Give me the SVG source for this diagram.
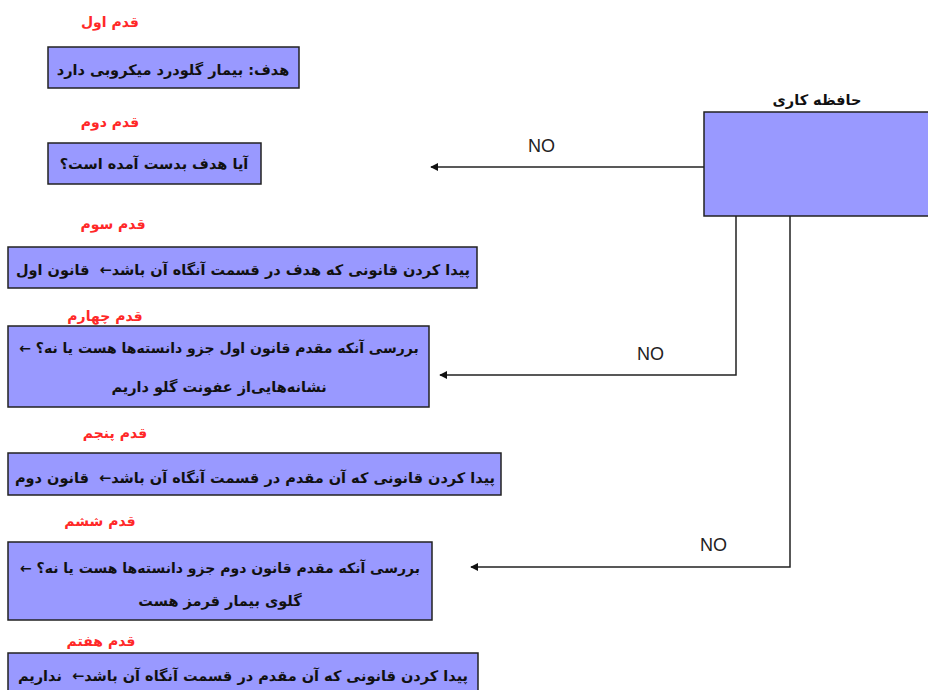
<svg xmlns="http://www.w3.org/2000/svg" width="928" height="690" viewBox="0 0 928 690">
<defs>
<style>
.box{fill:#9999FF;stroke:#222;stroke-width:1.5}
.t{font-family:"DejaVu Sans","Noto Sans",sans-serif;font-weight:bold;font-size:14.5px;fill:#111;text-anchor:middle;direction:rtl}
.s{font-size:14px}
.lbl{font-family:"DejaVu Sans","Noto Sans",sans-serif;font-weight:bold;font-size:14px;fill:#FF2828;text-anchor:middle;direction:rtl}
.no{font-family:"Liberation Sans",Arial,sans-serif;font-size:18px;fill:#222}
.c{fill:none;stroke:#222;stroke-width:1.5}
</style>
<marker id="ah" viewBox="0 0 10 10" refX="9" refY="5" markerWidth="8" markerHeight="8" orient="auto" markerUnits="userSpaceOnUse">
<path d="M0,0 L10,5 L0,10 z" fill="#111"/>
</marker>
</defs>
<rect width="928" height="690" fill="#fff"/>

<g id="step1">
<text class="lbl" x="110" y="27">قدم اول</text>
<rect class="box" x="48" y="47" width="251" height="41"/>
<text class="t" x="173" y="75">هدف: بیمار گلودرد میکروبی دارد</text>
</g>

<g id="step2">
<text class="lbl" x="110" y="127">قدم دوم</text>
<rect class="box" x="48" y="143" width="213" height="41"/>
<text class="t" x="154" y="169">آیا هدف بدست آمده است؟</text>
</g>

<g id="step3">
<text class="lbl" x="113" y="229">قدم سوم</text>
<rect class="box" x="8" y="247" width="469" height="41"/>
<text class="t" x="243" y="275">پیدا کردن قانونی که هدف در قسمت آنگاه آن باشد←&#160; قانون اول</text>
</g>

<g id="step4">
<text class="lbl" x="105" y="321">قدم چهارم</text>
<rect class="box" x="8" y="326" width="421" height="81"/>
<text class="t s" x="219" y="353">بررسی آنکه مقدم قانون اول جزو دانسته‌ها هست یا نه؟ ←</text>
<text class="t" x="219" y="392">نشانه‌هایی‌از عفونت گلو داریم</text>
</g>

<g id="step5">
<text class="lbl" x="115" y="438">قدم پنجم</text>
<rect class="box" x="8" y="453" width="493" height="42"/>
<text class="t" x="255" y="483">پیدا کردن قانونی که آن مقدم در قسمت آنگاه آن باشد←&#160; قانون دوم</text>
</g>

<g id="step6">
<text class="lbl" x="100" y="526">قدم ششم</text>
<rect class="box" x="8" y="542" width="424" height="78"/>
<text class="t s" x="220" y="573">بررسی آنکه مقدم قانون دوم جزو دانسته‌ها هست یا نه؟ ←</text>
<text class="t" x="220" y="606">گلوی بیمار قرمز هست</text>
</g>

<g id="step7">
<text class="lbl" x="101" y="646">قدم هفتم</text>
<rect class="box" x="8" y="653" width="470" height="45"/>
<text class="t" x="243" y="681">پیدا کردن قانونی که آن مقدم در قسمت آنگاه آن باشد←&#160; نداریم</text>
</g>

<g id="working-memory">
<text class="t" x="817" y="105">حافظه کاری</text>
<rect class="box" x="704" y="112" width="230" height="104"/>
</g>

<g id="connectors">
<path class="c" d="M704,167 H431" marker-end="url(#ah)"/>
<path class="c" d="M736,216 V375 H440" marker-end="url(#ah)"/>
<path class="c" d="M790,216 V567 H471" marker-end="url(#ah)"/>
<text class="no" x="528" y="152">NO</text>
<text class="no" x="637" y="360">NO</text>
<text class="no" x="700" y="551">NO</text>
</g>
</svg>
